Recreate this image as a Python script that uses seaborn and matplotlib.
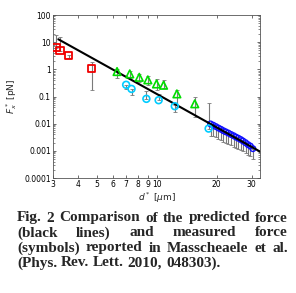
import numpy as np
import pandas as pd
import matplotlib
matplotlib.use('Agg')
import matplotlib.pyplot as plt
import seaborn as sns
from matplotlib.ticker import FixedLocator, FixedFormatter, LogLocator, NullFormatter

# data (d* in um, F* in pN)
red_d = [3.1, 3.25, 3.6, 4.7]
red_f = [6.2, 4.9, 3.3, 1.06]
red_lo = [6.2, 4.9, 2.6, 0.18]
red_hi = [18.0, 15.0, 3.3, 1.8]

green_d = [6.3, 7.3, 8.15, 9.0, 9.95, 10.8, 12.6, 15.5]
green_f = [0.83, 0.68, 0.51, 0.41, 0.29, 0.26, 0.125, 0.054]
green_lo = [0.48, 0.5, 0.34, 0.27, 0.18, 0.2, 0.04, 0.018]
green_hi = [1.0, 0.9, 0.67, 0.57, 0.45, 0.42, 0.18, 0.1]

cyan_d = [7.0, 7.45, 8.85, 10.2, 12.3, 18.2]
cyan_f = [0.27, 0.19, 0.082, 0.073, 0.044, 0.0066]
cyan_lo = [0.19, 0.11, 0.082, 0.073, 0.027, 0.0066]
cyan_hi = [0.27, 0.19, 0.16, 0.12, 0.05, 0.056]

blue_d = [18.6, 19.2, 19.8, 20.4, 21.0, 21.6, 22.2, 22.9, 23.6,
          24.3, 25.0, 25.7, 26.4, 27.1, 27.9, 28.7, 29.5, 30.4]
blue_f = [0.0098, 0.0088, 0.0078, 0.0069, 0.0062, 0.0055, 0.0050, 0.0045, 0.0040,
          0.0036, 0.0032, 0.0029, 0.0026, 0.0023, 0.0020, 0.0017, 0.0015, 0.0012]
blue_lo = [0.0035, 0.0034, 0.0031, 0.0028, 0.0025, 0.0022, 0.0020, 0.0018, 0.0016,
           0.0014, 0.0013, 0.0012, 0.0011, 0.00095, 0.00085, 0.00072, 0.00063, 0.00052]

line_d = [3.19, 10.0, 33.0]
line_f = [12.8, 0.123, 0.00094]

xticks = [3, 4, 5, 6, 7, 8, 9, 10, 20, 30]
yticks = [0.0001, 0.001, 0.01, 0.1, 1, 10, 100]
ytick_labels = ['0.0001', '0.001', '0.01', '0.1', '1', '10', '100']

caption = [
    'Fig. 2 Comparison of the predicted force',
    '(black lines) and measured force',
    '(symbols) reported in Masscheaele et al.',
    '(Phys. Rev. Lett. 2010, 048303).',
]

sns.set_style('ticks')
plt.rcParams['font.family'] = ['DejaVu Sans']

W, H = 296, 293
fig = plt.figure(figsize=(W / 100, H / 100), dpi=100)
ax = fig.add_axes([53 / W, 1 - 178 / H, 207 / W, 163 / H])

err_color = '#7a7a7a'

def bars(d, f, lo, hi):
    f = np.array(f)
    yerr = [f - np.array(lo), np.array(hi) - f]
    ax.errorbar(d, f, yerr=yerr, fmt='none', ecolor=err_color,
                elinewidth=0.8, capsize=1.2, capthick=0.6, zorder=1)

bars(red_d, red_f, red_lo, red_hi)
bars(green_d, green_f, green_lo, green_hi)
bars(cyan_d, cyan_f, cyan_lo, cyan_hi)
bars(blue_d, blue_f, blue_lo, blue_f)

sns.lineplot(x=line_d, y=line_f, color='black', linewidth=1.5, ax=ax, zorder=3)

sns.scatterplot(x=red_d, y=red_f, marker='s', s=28, facecolors='none',
                edgecolor='#f00000', linewidth=1.3, ax=ax, zorder=4)
sns.scatterplot(x=green_d, y=green_f, marker='^', s=30, facecolors='none',
                edgecolor='#00dd00', linewidth=1.2, ax=ax, zorder=4)
sns.scatterplot(x=cyan_d, y=cyan_f, marker='o', s=24, facecolors='none',
                edgecolor='#00ccff', linewidth=1.2, ax=ax, zorder=4)
sns.scatterplot(x=blue_d, y=blue_f, marker='o', s=16, facecolors='none',
                edgecolor='#1010ff', linewidth=1.0, ax=ax, zorder=2)

ax.set_xscale('log')
ax.set_yscale('log')
ax.set_xlim(3, 33)
ax.set_ylim(0.0001, 100)

ax.xaxis.set_major_locator(FixedLocator(xticks))
ax.xaxis.set_major_formatter(FixedFormatter([str(t) for t in xticks]))
ax.xaxis.set_minor_locator(FixedLocator([]))
ax.yaxis.set_major_locator(FixedLocator(yticks))
ax.yaxis.set_major_formatter(FixedFormatter(ytick_labels))
ax.yaxis.set_minor_locator(LogLocator(base=10, subs=np.arange(2, 10)))
ax.yaxis.set_minor_formatter(NullFormatter())

ax.tick_params(which='both', direction='in', top=True, right=True,
               labelsize=5.5, pad=1.5, colors='#333333', labelcolor='black')
ax.tick_params(which='major', length=2.5, width=0.5)
ax.tick_params(which='minor', length=1.5, width=0.4)
for s in ax.spines.values():
    s.set_linewidth(0.6)
    s.set_color('#555555')

ax.set_xlabel(r'$d^*$ [$\mu$m]', fontsize=6.5, labelpad=1)
ax.set_ylabel(r'$F_x^*$ [pN]', fontsize=6.5, labelpad=4)

# justified bold serif caption
cap_font = dict(family='Liberation Serif', weight='bold', size=11)
x0, x1 = 17, 288
ys = [218, 233, 248, 263]
renderer = fig.canvas.get_renderer()
for i, (line, yp) in enumerate(zip(caption, ys)):
    words = line.split(' ')
    texts = [fig.text(0, 1 - yp / H, w, va='center', ha='left', **cap_font) for w in words]
    widths = [t.get_window_extent(renderer).width for t in texts]
    if i < len(caption) - 1:
        gap = (x1 - x0 - sum(widths)) / (len(words) - 1)
    else:
        sp = fig.text(0, 0, 'a a', **cap_font)
        sp2 = fig.text(0, 0, 'aa', **cap_font)
        gap = sp.get_window_extent(renderer).width - sp2.get_window_extent(renderer).width
        sp.remove()
        sp2.remove()
    xp = x0
    for t, w in zip(texts, widths):
        t.set_x(xp / W)
        xp += w + gap

fig.savefig('out.png', dpi=100)
